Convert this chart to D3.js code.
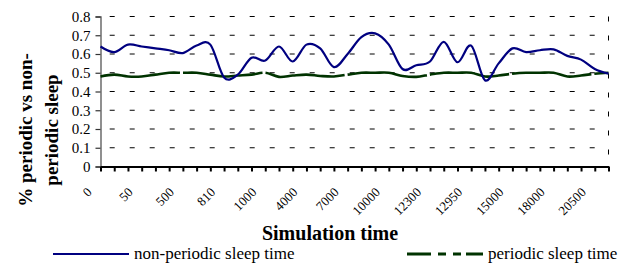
<!DOCTYPE html>
<html>
<head>
<meta charset="utf-8">
<script src="https://cdn.jsdelivr.net/npm/d3@7"></script>
<style>
  body { margin: 0; background: #fff; }
  text { font-family: "Liberation Serif", "Times New Roman", serif; }
</style>
</head>
<body>
<div id="chart"></div>
<script>

// x categories: 38 simulation-time points, only every third one is labelled
const tickLabels = ["0", "50", "500", "810", "1000", "4000", "7000", "10000",
                    "12300", "12950", "15000", "18000", "20500"];
const labelEvery = 3;

const nonPeriodic = [0.64, 0.61, 0.65, 0.64, 0.63, 0.62, 0.605, 0.645, 0.65, 0.475,
                     0.49, 0.58, 0.565, 0.64, 0.56, 0.65, 0.63, 0.53, 0.60, 0.69,
                     0.71, 0.65, 0.52, 0.54, 0.56, 0.665, 0.556, 0.645, 0.46, 0.55,
                     0.63, 0.61, 0.62, 0.625, 0.59, 0.57, 0.52, 0.495];

const periodic = [0.48, 0.49, 0.48, 0.48, 0.49, 0.50, 0.50, 0.50, 0.49, 0.48,
                  0.485, 0.49, 0.50, 0.478, 0.485, 0.49, 0.483, 0.48, 0.49, 0.50,
                  0.50, 0.50, 0.483, 0.478, 0.49, 0.50, 0.50, 0.50, 0.48, 0.485,
                  0.495, 0.50, 0.50, 0.50, 0.48, 0.485, 0.495, 0.50];

const yTicks = [0, 0.1, 0.2, 0.3, 0.4, 0.5, 0.6, 0.7, 0.8];

const width = 631,
      height = 263,
      margin = ({top: 16.5, right: 22.5, bottom: 96.5, left: 100.5});

const svg = d3.select("#chart")
    .append("svg")
    .attr("width", width)
    .attr("height", height)
    .attr("viewBox", [0, 0, width, height]);

const idx = d3.range(nonPeriodic.length);

// points sit on the tick marks, so a point scale with no padding
const x = d3.scalePoint()
    .domain(idx)
    .range([margin.left, width - margin.right]);

const y = d3.scaleLinear()
    .domain([0, 0.8])
    .range([height - margin.bottom, margin.top]);

// dashed gridlines
svg.append("g")
    .selectAll("line")
    .data(yTicks.filter(d => d > 0))
    .join("line")
    .attr("x1", margin.left)
    .attr("x2", width - margin.right)
    .attr("y1", d => y(d))
    .attr("y2", d => y(d))
    .attr("stroke", "#000")
    .attr("stroke-width", 1)
    .attr("stroke-dasharray", "5,15")
    .attr("stroke-dashoffset", 10.8);

// dashed right border of the plot area
svg.append("line")
    .attr("x1", width - margin.right)
    .attr("x2", width - margin.right)
    .attr("y1", y(0.8))
    .attr("y2", y(0))
    .attr("stroke", "#000")
    .attr("stroke-dasharray", "5,14");

// y axis
const yAxis = g => g
    .attr("transform", `translate(${margin.left},0)`)
    .call(d3.axisLeft(y).tickValues(yTicks).tickSize(5).tickPadding(5)
        .tickFormat(d => d === 0 ? "0" : d3.format(".1f")(d)))
    .call(g => g.attr("font-family", "Liberation Serif"))
    .call(g => g.select(".domain").attr("stroke", "#555").attr("stroke-width", 1.3))
    .call(g => g.selectAll(".tick line").attr("stroke", "#333").attr("stroke-width", 1.2))
    .call(g => g.selectAll(".tick text")
        .attr("fill", "#000")
        .style("font-size", "15px"));

svg.append("g").call(yAxis);

// x axis
const xAxis = g => g
    .attr("transform", `translate(0,${height - margin.bottom})`)
    .call(d3.axisBottom(x).tickSize(5).tickSizeOuter(0).tickFormat(""))
    .call(g => g.select(".domain").attr("stroke", "#000").attr("stroke-width", 2))
    .call(g => g.selectAll(".tick line").attr("stroke", "#000").attr("stroke-width", 2));

svg.append("g").call(xAxis);

svg.append("g")
    .selectAll("text")
    .data(tickLabels)
    .join("text")
    .attr("transform", (d, i) => `translate(${x(i * labelEvery) - 8},193) rotate(-45)`)
    .attr("text-anchor", "end")
    .style("font-family", "Liberation Serif")
    .style("font-size", "13px")
    .text(d => d);

// series
const line = data => d3.line()
    .x((d, i) => x(i))
    .y(d => y(d))
    .curve(d3.curveCardinal)(data);

svg.append("path")
    .attr("d", line(periodic))
    .attr("fill", "none")
    .attr("stroke", "#003300")
    .attr("stroke-width", 2.6)
    .attr("stroke-dasharray", "80,3");

svg.append("path")
    .attr("d", line(nonPeriodic))
    .attr("fill", "none")
    .attr("stroke", "#000080")
    .attr("stroke-width", 2.2);

// axis titles
svg.append("text")
    .attr("x", 330)
    .attr("y", 240)
    .attr("text-anchor", "middle")
    .style("font-size", "20px")
    .style("font-weight", "bold")
    .text("Simulation time");

const yTitle = svg.append("text")
    .attr("transform", "translate(32,130) rotate(-90)")
    .attr("text-anchor", "middle")
    .style("font-family", "Liberation Serif")
    .style("font-size", "19px")
    .style("font-weight", "bold");

yTitle.append("tspan").attr("x", 0).attr("dy", 0).text("% periodic vs non-");
yTitle.append("tspan").attr("x", 0).attr("dy", 26).text("periodic sleep");

// legend
const legend = [
    {name: "non-periodic sleep time", color: "#000080", dash: null, width: 2, x: 53},
    {name: "periodic sleep time", color: "#003300", dash: "24,7,8,7,8,5", width: 3, x: 407}
];

const lg = svg.append("g")
    .selectAll("g")
    .data(legend)
    .join("g")
    .attr("transform", d => `translate(${d.x},254)`);

lg.append("line")
    .attr("x1", 0)
    .attr("x2", 76)
    .attr("stroke", d => d.color)
    .attr("stroke-width", d => d.width)
    .attr("stroke-dasharray", d => d.dash);

lg.append("text")
    .attr("x", 81)
    .attr("y", 5)
    .style("font-size", "17px")
    .text(d => d.name);

</script>
</body>
</html>
